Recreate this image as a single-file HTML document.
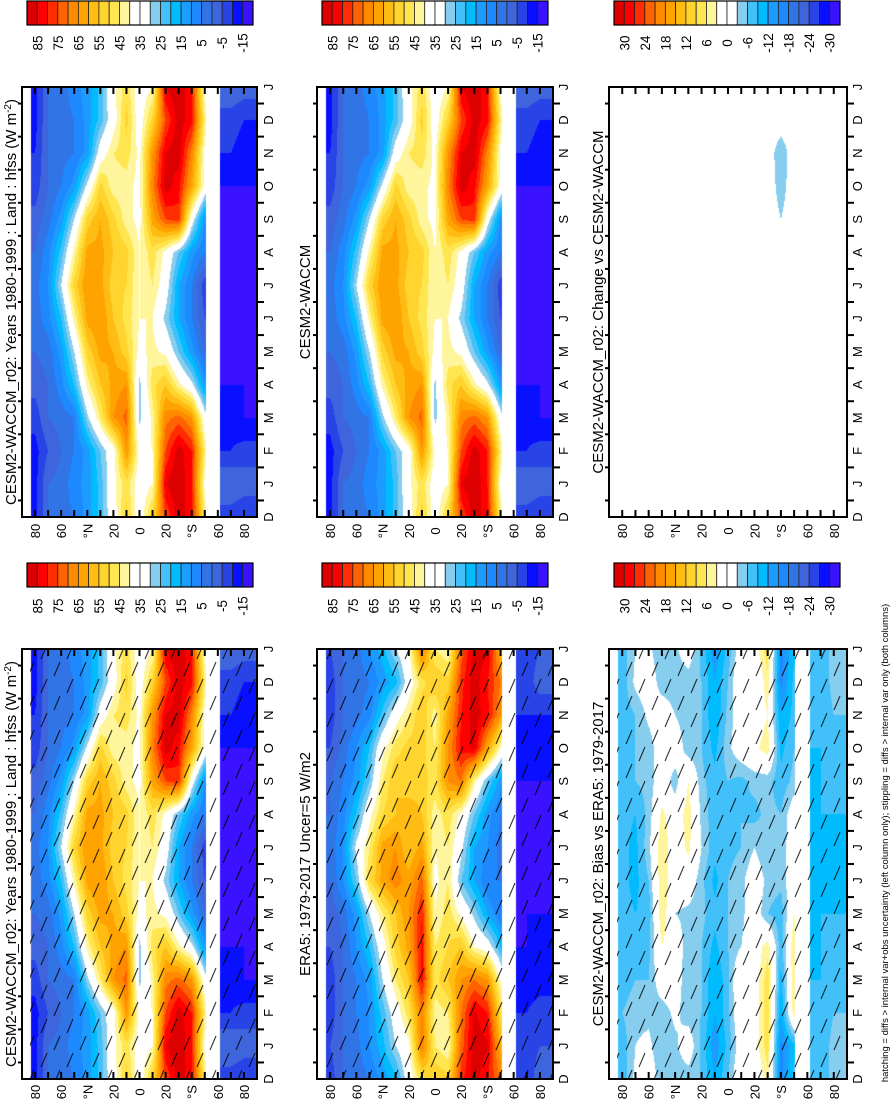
<!DOCTYPE html>
<html><head><meta charset="utf-8">
<style>
html,body{margin:0;padding:0;background:#fff;}
#wrap{position:relative;width:895px;height:1100px;overflow:hidden;font-family:"Liberation Sans",sans-serif;}
canvas{position:absolute;}
svg{position:absolute;left:0;top:0;}
</style></head>
<body>
<div id="wrap">
<svg id="ov" width="895" height="1100"></svg>
</div>
<script>
// ---- data ----
const lats = [80,70,60,50,40,30,20,10,0,-10,-20,-30,-40,-50,-70,-80];
const months = ['D','J','F','M','A','M','J','J','A','S','O','N','D','J'];
const fullLevels = [85,75,65,55,45,35,25,15,5,-5,-15];
const diffLevels = [30,24,18,12,6,0,-6,-12,-18,-24,-30];
const latTickLabels = ['80','60','°N','20','0','20','°S','60','80'];
const latTickValues = [80,60,40,20,0,-20,-40,-60,-80];

const modelD  = [-12,0,2,5,12,22,36,52,35,52,75,88,82,45,-8,-10];
const modelJ  = [-12,0,2,8,12,22,38,48,35,40,85,90,80,38,0,-2];
const modelF  = [-12,-5,0,5,12,25,36,65,38,40,75,88,80,45,-10,-8];
const modelMr = [-8,0,2,5,28,45,65,72,28,42,68,72,65,35,-12,-15];
const modelAp = [-3,0,8,20,42,55,62,65,28,48,55,42,32,12,-15,-15];
const modelMy = [0,2,12,30,52,62,60,52,38,42,38,25,12,0,-15,-15];
const modelJn = [2,8,20,42,62,65,55,48,40,40,28,15,5,-5,-15,-15];
const modelJl = [3,10,30,52,65,62,52,50,40,45,35,15,5,-8,-15,-15];
const modelAu = [0,8,22,42,62,62,55,52,40,48,38,25,12,5,-15,-15];
const modelS  = [-3,3,12,30,52,60,52,42,38,62,75,78,35,10,-15,-15];
const modelO  = [-8,0,5,12,32,52,42,42,38,68,88,82,62,38,-15,-15];
const modelN  = [-10,0,3,5,12,35,45,48,38,65,85,88,68,38,-10,-12];
const modelRows = [modelD,modelJ,modelF,modelMr,modelAp,modelMy,modelJn,modelJl,modelAu,modelS,modelO,modelN,modelD,modelJ];

const eraD  = [-8,0,2,5,12,18,35,48,55,52,78,88,80,70,-8,-2];
const eraJ  = [-5,0,3,10,18,30,38,70,45,40,72,88,86,60,-8,-5];
const eraF  = [-8,0,5,10,22,35,48,68,42,45,70,86,80,50,-10,-8];
const eraMr = [-8,0,5,12,30,45,55,82,48,55,65,70,65,40,-12,-12];
const eraAp = [-5,0,10,20,36,52,62,82,45,50,55,40,35,20,-15,-12];
const eraMy = [-3,2,12,30,45,55,65,80,40,48,38,28,15,5,-15,-15];
const eraJn = [0,10,25,50,62,68,62,72,38,45,25,15,5,5,-15,-15];
const eraJl = [2,10,32,45,62,65,55,62,40,45,32,15,10,3,-15,-15];
const eraAu = [0,8,20,38,50,55,60,55,42,48,38,25,12,5,-15,-15];
const eraS  = [0,5,12,25,45,55,50,52,48,65,70,42,25,12,-15,-15];
const eraO  = [-5,2,10,20,38,48,52,52,45,65,82,86,62,40,-12,-12];
const eraN  = [-8,0,3,8,22,36,45,55,42,62,80,88,82,65,-10,-10];
const eraRows = [eraD,eraJ,eraF,eraMr,eraAp,eraMy,eraJn,eraJl,eraAu,eraS,eraO,eraN,eraD,eraJ];

const biasD  = [-8,-2,0,-5,-5,-5,-6,-12,-6,2,-2,5,-16,-8,-8,-5];
const biasJ  = [-8,-3,-2,-6,-4,0,-7,-14,-8,0,1,8,-16,-10,-8,-5];
const biasF  = [-6,-4,-4,-5,-2,-5,-6,-12,-7,2,0,8,-12,5,-8,-6];
const biasMr = [-8,-6,-6,0,0,-6,-6,-12,-7,3,0,8,-10,6,-9,-8];
const biasAp = [-8,-8,-7,3,0,-5,-6,-10,-6,-3,0,5,-8,6,-9,-8];
const biasMy = [-8,-9,-8,6,-3,-4,-5,-8,-6,-4,0,-6,-8,3,-9,-9];
const biasJn = [-8,-10,-6,6,0,0,-5,-10,-6,-4,0,-4,-5,0,-9,-9];
const biasJl = [-8,-10,-4,6,0,4,-3,-8,-7,-6,-3,-6,-5,0,-9,-9];
const biasAu = [-8,-9,-5,4,0,5,-4,-8,-8,-6,-7,-5,-6,0,-9,-9];
const biasS  = [-8,-6,-5,0,-5,3,-5,-8,-6,-7,-5,-5,-8,-5,-9,-8];
const biasO  = [-8,-6,-5,0,0,-5,-6,-10,-4,0,2,5,-10,-6,-9,-7];
const biasN  = [-8,-6,-2,0,-3,-5,-6,-12,-5,0,0,3,-12,-8,-8,-6];
const biasRows = [biasD,biasJ,biasF,biasMr,biasAp,biasMy,biasJn,biasJl,biasAu,biasS,biasO,biasN,biasD,biasJ];

const chgZero = [0,0,0,0,0,0,0,0,0,0,0,0,0,0,0,0];
const chgS    = [0,0,0,0,0,0,0,0,0,0,0,0,-3,0,0,0];
const chgO    = [0,0,0,0,0,0,0,0,0,0,0,0,-5,0,0,0];
const chgN    = [0,0,0,0,0,0,0,0,0,0,0,0,-6,0,0,0];
const chgRows = [chgZero,chgZero,chgZero,chgZero,chgZero,chgZero,chgZero,chgZero,chgZero,chgS,chgO,chgN,chgZero,chgZero];

const palette = ['#dc0000','#ff0000','#ff2d00','#ff6200','#ff8a00','#ffa300','#ffbd14','#ffd42e','#ffe650','#fff59c','#ffffff','#ffffff','#87cdee','#42c0fa','#00bcff','#1c9cff','#1e88ff','#3174e6','#3f65dd','#2843e6','#0810ff','#3a12ff'];

// ---- layout ----
const cols = [{x0:22,x1:257,tx:11,ml:268},{x0:317,x1:553,tx:305,ml:563},{x0:609,x1:847,tx:598,ml:857}];
const rowsY = [{y0:87,y1:517,cb:1,cl:43,ll:531},{y0:649,y1:1079,cb:563,cl:606,ll:1092}];
const panels = [
 {c:0,r:0,data:modelRows,top:90,step:5,title:'CESM2-WACCM_r02: Years 1980-1999 : Land : hfss (W m',sup:true,name:'model-panel',hatch:false},
 {c:0,r:1,data:modelRows,top:90,step:5,title:'CESM2-WACCM_r02: Years 1980-1999 : Land : hfss (W m',sup:true,name:'model-panel-hatched',hatch:true},
 {c:1,r:0,data:modelRows,top:90,step:5,title:'CESM2-WACCM',sup:false,name:'baseline-panel',hatch:false},
 {c:1,r:1,data:eraRows,top:90,step:5,title:'ERA5: 1979-2017 Uncer=5 W/m2',sup:false,name:'era5-panel',hatch:true},
 {c:2,r:0,data:chgRows,top:33,step:3,title:'CESM2-WACCM_r02: Change vs CESM2-WACCM',sup:false,name:'change-panel',hatch:false},
 {c:2,r:1,data:biasRows,top:33,step:3,title:'CESM2-WACCM_r02: Bias vs ERA5: 1979-2017',sup:false,name:'bias-panel',hatch:true}
];

const NS='http://www.w3.org/2000/svg';
const svg=document.getElementById('ov');
const wrap=document.getElementById('wrap');
function mk(tag,attrs,parent){const e=document.createElementNS(NS,tag);for(const k in attrs)e.setAttribute(k,attrs[k]);(parent||svg).appendChild(e);return e;}

function valAt(rows,lat,mi){
  let j=0; let f=0;
  if(lat<-62 && lat>-70) lat=-70;
  if(lat>=lats[0]){j=0;f=0;}
  else if(lat<=lats[lats.length-1]){j=lats.length-2;f=1;}
  else{for(j=0;j<lats.length-1;j++){if(lat<=lats[j]&&lat>=lats[j+1])break;} f=(lats[j]-lat)/(lats[j]-lats[j+1]);}
  let i=Math.floor(mi); if(i>=months.length-1)i=months.length-2; if(i<0)i=0;
  const g=Math.min(1,Math.max(0,mi-i));
  const a=rows[i][j]*(1-f)+rows[i][j+1]*f;
  const b=rows[i+1][j]*(1-f)+rows[i+1][j+1]*f;
  return a*(1-g)+b*g;
}
function hexRGB(h){return [parseInt(h.substr(1,2),16),parseInt(h.substr(3,2),16),parseInt(h.substr(5,2),16)];}
const palRGB=palette.map(hexRGB);

const defs=mk('defs',{});
const pat=mk('pattern',{id:'hatch',width:26,height:34,patternUnits:'userSpaceOnUse'},defs);
mk('line',{x1:2,y1:30,x2:8,y2:16,stroke:'#000','stroke-width':1.1},pat);
mk('line',{x1:15,y1:13,x2:21,y2:-1,stroke:'#000','stroke-width':1.1},pat);
mk('line',{x1:15,y1:47,x2:21,y2:33,stroke:'#000','stroke-width':1.1},pat);
const dots=mk('pattern',{id:'dots',width:8,height:8,patternUnits:'userSpaceOnUse'},defs);
mk('circle',{cx:2,cy:2,r:0.9,fill:'#000'},dots);

panels.forEach((p,pi)=>{
  const C=cols[p.c], R=rowsY[p.r];
  const W=C.x1-C.x0, H=R.y1-R.y0;
  const cv=document.createElement('canvas');
  cv.width=W; cv.height=H;
  cv.style.left=C.x0+'px'; cv.style.top=R.y0+'px';
  
  
  wrap.insertBefore(cv,svg);
  const ctx=cv.getContext('2d');
  const img=ctx.createImageData(W,H);
  for(let py=0;py<H;py++){
    const mi=(months.length-1)*(1-(py+0.5)/H);
    for(let px=0;px<W;px++){
      const lat=90-(px+0.5)/W*180;
      let rgb=[255,255,255];
      const masked = lat>83 || (lat<-51 && lat>-62);
      if(!masked){
        const v=valAt(p.data,lat,mi);
        let k=Math.floor((p.top-v)/p.step); k=Math.max(0,Math.min(palette.length-1,k));
        rgb=palRGB[k];
      }
      const o=(py*W+px)*4; img.data[o]=rgb[0];img.data[o+1]=rgb[1];img.data[o+2]=rgb[2];img.data[o+3]=255;
    }
  }
  ctx.putImageData(img,0,0);

  const g=mk('g',{});
  
  
  if(p.hatch){
    const hr=mk('rect',{x:C.x0+8,y:R.y0,width:W-8,height:H,fill:'url(#hatch)',opacity:0.8},g);
    
    
  }
  const fr=mk('rect',{x:C.x0,y:R.y0,width:W,height:H,fill:'none',stroke:'#000','stroke-width':2},g);
  
  
  const xOf=lat=>C.x0+(90-lat)/180*W;
  for(let lat=80;lat>=-80;lat-=10){
    const x=xOf(lat);
    mk('line',{x1:x,y1:R.y0,x2:x,y2:R.y0+7,stroke:'#000','stroke-width':2},g);
    mk('line',{x1:x,y1:R.y1,x2:x,y2:R.y1-7,stroke:'#000','stroke-width':2},g);
  }
  latTickValues.forEach((lv,k)=>{
    const x=xOf(lv);
    const t=mk('text',{x:0,y:0,transform:`translate(${x+5},${R.ll}) rotate(-90)`,'text-anchor':'middle','font-size':13,fill:'#000'},g);
    t.textContent=latTickLabels[k];
    
    
  });
  const step=H/(months.length-1);
  months.forEach((m,i)=>{
    const y=R.y1-i*step;
    const t=mk('text',{x:0,y:0,transform:`translate(${C.ml+5},${y}) rotate(-90)`,'text-anchor':'middle','font-size':13,fill:'#000'},g);
    t.textContent=m;
    
    
    if(i<months.length-1){
      const ty=y-step/2;
      mk('line',{x1:C.x1,y1:ty,x2:C.x1+7,y2:ty,stroke:'#000','stroke-width':2},g);
      mk('line',{x1:C.x0,y1:ty,x2:C.x0-4,y2:ty,stroke:'#000','stroke-width':2},g);
    }
  });
  const cy=(R.y0+R.y1)/2;
  const tt=mk('text',{x:0,y:0,transform:`translate(${C.tx+5},${cy}) rotate(-90)`,'text-anchor':'middle','font-size':15,fill:'#000'},g);
  tt.textContent=p.title;
  if(p.sup){
    const s=mk('tspan',{'baseline-shift':'super','font-size':10},tt); s.textContent='-2';
    const s2=mk('tspan',{},tt); s2.textContent=')';
  }
  
  

  const cb=mk('g',{});
  
  
  const cx0=C.x0+5, cbw=226, bw=cbw/palette.length;
  palette.forEach((col,k)=>{
    const r=mk('rect',{x:cx0+k*bw,y:R.cb,width:bw,height:24,fill:col,stroke:'#222','stroke-width':0.8},cb);
    
    
  });
  mk('rect',{x:cx0,y:R.cb,width:cbw,height:24,fill:'none',stroke:'#000','stroke-width':1.2},cb);
  const levels = p.step===5?fullLevels:diffLevels;
  levels.forEach((lv,k)=>{
    const x=cx0+(2*k+1)*bw;
    const t=mk('text',{x:0,y:0,transform:`translate(${x+5},${R.cl}) rotate(-90)`,'text-anchor':'middle','font-size':13.5,fill:'#000'},cb);
    t.textContent=String(lv);
    
    
  });
});

const fn=mk('text',{x:0,y:0,transform:'translate(888,843) rotate(-90)','text-anchor':'middle','font-size':9.5,fill:'#000'});
fn.textContent='hatching = diffs > internal var+obs uncertainty (left column only); stippling = diffs > internal var only (both columns)';


</script>
</body></html>
